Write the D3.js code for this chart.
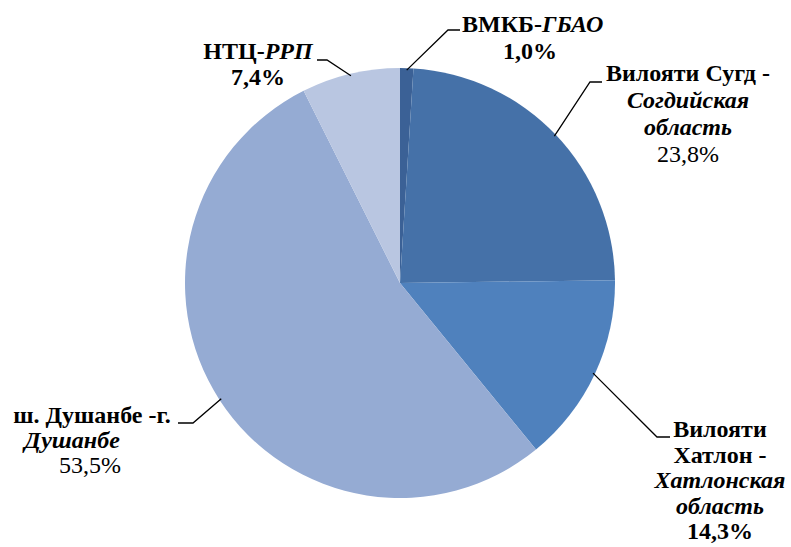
<!DOCTYPE html>
<html>
<head>
<meta charset="utf-8">
<script src="https://cdnjs.cloudflare.com/ajax/libs/d3/7.8.5/d3.min.js"></script>
</head>
<body style="margin:0">
<script>
// data
var regions = ["ВМКБ-ГБАО", "Вилояти Сугд", "Вилояти Хатлон", "ш. Душанбе", "НТЦ-РРП"];
var shares = [1.0, 23.8, 14.3, 53.5, 7.4];
var shareLabels = ["1,0%", "23,8%", "14,3%", "53,5%", "7,4%"];
// label lines: [text, italic?] pieces per line
var labelLines = [
  [[["ВМКБ-", false], ["ГБАО", true]]],
  [[["Вилояти  Сугд -", false]], [["Согдийская", true]], [["область", true]]],
  [[["Вилояти", false]], [["Хатлон -", false]], [["Хатлонская", true]], [["область", true]]],
  [[["ш. Душанбе -г.", false]], [["Душанбе", true]]],
  [[["НТЦ-", false], ["РРП", true]]]
];
var colors = ["#3b6196", "#4571a8", "#4f81bd", "#95abd3", "#b9c6e1"];

var width = 791, height = 547;
var cx = 400, cy = 283, radius = 215;

// label layout: text anchor point, elbow of leader, end of leader
var layout = [
  { x: 462, y: 32, anchor: "start", lh: 27, elbow: [448, 30], end: [460, 30], pctX: 530, pctWeight: "bold" },
  { x: 688, y: 81, anchor: "middle", lh: 27, elbow: [590, 82], end: [602, 82], pctWeight: "normal" },
  { x: 720, y: 437, anchor: "middle", lh: 25.5, elbow: [657, 437], end: [670, 437], pctWeight: "bold" },
  { x: 90, y: 423, anchor: "middle", lh: 25, elbow: [193, 423], end: [178, 423], pctWeight: "normal", lineX: [92, 72] },
  { x: 258, y: 59, anchor: "middle", lh: 26, elbow: [327, 60], end: [317, 60], pctWeight: "bold" }
];

var svg = d3.select("body").append("svg")
  .attr("width", width)
  .attr("height", height);

var g = svg.append("g").attr("transform", "translate(" + cx + "," + cy + ")");

var pie = d3.pie().sort(null).value(function (d) { return d; });
var arcs = pie(shares);
var arc = d3.arc().innerRadius(0).outerRadius(radius);

g.selectAll("path.slice")
  .data(arcs)
  .enter()
  .append("path")
  .attr("class", "slice")
  .attr("d", arc)
  .attr("fill", function (d, i) { return colors[i]; });

// leader lines
var lineGen = d3.line();
arcs.forEach(function (d, i) {
  var a = (d.startAngle + d.endAngle) / 2;
  var r = radius - 2;
  var p0 = [cx + r * Math.sin(a), cy - r * Math.cos(a)];
  var L = layout[i];
  svg.append("path")
    .attr("d", lineGen([p0, L.elbow, L.end]))
    .attr("fill", "none")
    .attr("stroke", "#000")
    .attr("stroke-width", 1.3);
});

// labels: one text element per piece, lines laid out by measured width
var fs = 24;
function addText(str, weight, style) {
  return svg.append("text")
    .attr("font-family", "'Liberation Serif'")
    .style("font-family", "'Liberation Serif', 'Times New Roman', Tinos")
    .attr("font-size", fs)
    .attr("font-weight", weight)
    .attr("font-style", style)
    .attr("fill", "#000")
    .text(str);
}
function placeLine(pieces, x, y, anchor) {
  var nodes = pieces.map(function (p) { return addText(p[0], p[2] || "bold", p[1] ? "italic" : "normal"); });
  var widths = nodes.map(function (n) { return n.node().getComputedTextLength(); });
  var total = d3.sum(widths);
  var x0 = anchor === "middle" ? x - total / 2 : x;
  nodes.forEach(function (n, k) {
    n.attr("x", x0).attr("y", y);
    x0 += widths[k];
  });
}
labelLines.forEach(function (lines, i) {
  var L = layout[i];
  lines.forEach(function (pieces, j) {
    var lx = L.lineX ? L.lineX[j] : L.x;
    placeLine(pieces, lx, L.y + j * L.lh, L.anchor);
  });
  var px = L.pctX !== undefined ? L.pctX : L.x;
  placeLine([[shareLabels[i], false, L.pctWeight]], px, L.y + lines.length * L.lh, "middle");
});
</script>
</body>
</html>
